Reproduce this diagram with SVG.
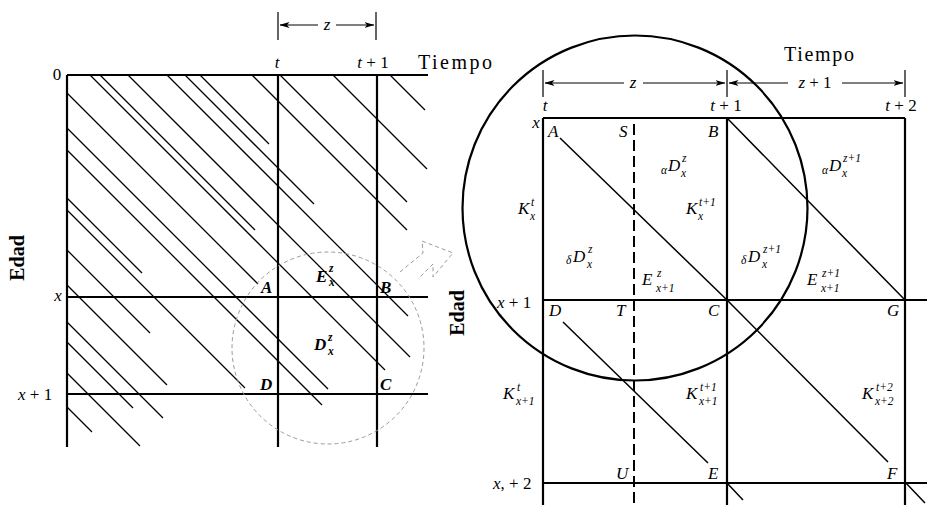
<svg xmlns="http://www.w3.org/2000/svg" width="927" height="505" viewBox="0 0 927 505">
<defs>
<marker id="ah" markerUnits="userSpaceOnUse" markerWidth="10" markerHeight="7" refX="9.5" refY="3.5" orient="auto-start-reverse">
<path d="M0,0.6 L10,3.5 L0,6.4 L2.5,3.5 z" fill="#000"/>
</marker>
</defs>
<style>
.f{stroke:#000;stroke-width:2.2;fill:none}
.h{stroke:#000;stroke-width:1.3;fill:none}
.d{stroke:#000;stroke-width:1.5;fill:none}
.b{stroke:#000;stroke-width:1.2;fill:none}
.g{stroke:#9a9a9a;stroke-width:1;fill:none;stroke-dasharray:4 3}
text{font-family:"Liberation Serif","DejaVu Serif",serif;fill:#000}
.m{font-style:italic;font-size:17px}
.mb{font-style:italic;font-weight:bold;font-size:17px}
.s{font-style:italic;font-size:11.5px}
.sb{font-style:italic;font-weight:bold;font-size:11.5px}
.n{font-size:17px}
.w{font-size:20px}
.e{font-size:20px;font-weight:bold}
.mid{text-anchor:middle}
</style>
<rect width="927" height="505" fill="#fff"/>

<g id="left-panel" font-family="Liberation Serif, DejaVu Serif, serif">
<g id="left-hatch">
<path class="h" d="M90,75L385,370M100,75L255,230M128,75L410,357M167,75L408,316M185,75L314,204M200,75L269,144M252,75L407,230M280,75L407,202M333,75L427,169M390,75L425,110"/>
<path class="h" d="M67,93L258,284M67,128L328,389M67,150L322,405M67,198L142,273M67,210L245,388M67,250L150,333M67,285L167,385M67,322L163,418M67,342L133,408M67,373L140,446M67,407L92,432"/>
</g>
<g id="left-frame">
<path class="f" d="M67,75H428M67,297H428M67,394H428M67,75V447M278,75V447M377,75V447"/>
</g>
<g id="left-bracket">
<path class="b" d="M278,12V40M376,12V40"/>
<path class="b" d="M318,25H280" marker-end="url(#ah)"/>
<path class="b" d="M336,25H374" marker-end="url(#ah)"/>
<text class="m mid" x="327" y="30">z</text>
</g>
<g id="left-labels">
<text class="n mid" x="57" y="80">0</text>
<text class="m mid" x="277" y="68">t</text>
<text class="n mid" x="373" y="68"><tspan font-style="italic">t</tspan> + 1</text>
<text class="w" x="418" y="69" textLength="74">Tiempo</text>
<text class="m mid" x="58" y="301">x</text>
<text class="n" x="18" y="400"><tspan font-style="italic">x</tspan> + 1</text>
<text class="e mid" transform="translate(24,258) rotate(-90)">Edad</text>
<text class="mb" x="261" y="293">A</text>
<text class="mb" x="380" y="293">B</text>
<text class="mb" x="260" y="390">D</text>
<text class="mb" x="380" y="390">C</text>
<text class="mb" x="316" y="282">E</text>
<text class="sb" x="329" y="272">z</text>
<text class="sb" x="329" y="286">x</text>
<text class="mb" x="314" y="350">D</text>
<text class="sb" x="328" y="341">z</text>
<text class="sb" x="328" y="355">x</text>
</g>
<g id="left-highlight">
<circle class="g" cx="328" cy="348" r="96"/>
<path class="g" d="M400,272L423,253L422,241L453,253L433,277L433,264L418,279"/>
</g>
</g>

<g id="right-panel" font-family="Liberation Serif, DejaVu Serif, serif">
<g id="right-circle">
<circle cx="635" cy="208" r="172.5" fill="none" stroke="#000" stroke-width="2.2"/>
</g>
<g id="right-frame">
<path class="f" d="M543,118H905M543,300H927M543,483H927M543,118V505M727,118V505M905,118V505"/>
<path d="M634,124V505" stroke="#000" stroke-width="2" stroke-dasharray="11 5" fill="none"/>
</g>
<g id="right-diagonals">
<path class="d" d="M560,138L727,300M727,118L905,300M727,300L888,462M905,482L925,503M563,322L708,463M727,483L743,500"/>
</g>
<g id="right-bracket">
<path class="b" d="M543,70V97M727,70V97M905,70V97"/>
<path class="b" d="M624,83H545" marker-end="url(#ah)"/>
<path class="b" d="M643,83H725" marker-end="url(#ah)"/>
<path class="b" d="M788,83H729" marker-end="url(#ah)"/>
<path class="b" d="M842,83H903" marker-end="url(#ah)"/>
<text class="m mid" x="633" y="88">z</text>
<text class="n mid" x="815" y="88"><tspan font-style="italic">z</tspan> + 1</text>
<text class="w" x="784" y="61" textLength="70">Tiempo</text>
</g>
<g id="right-labels">
<text class="m mid" x="545" y="111">t</text>
<text class="n mid" x="726" y="111"><tspan font-style="italic">t</tspan> + 1</text>
<text class="n mid" x="901" y="111"><tspan font-style="italic">t</tspan> + 2</text>
<text class="m mid" x="536" y="128">x</text>
<text class="m" x="548" y="137">A</text>
<text class="m" x="619" y="137">S</text>
<text class="m" x="708" y="137">B</text>
<text class="n" x="497" y="308"><tspan font-style="italic">x</tspan> + 1</text>
<text class="m" x="549" y="316">D</text>
<text class="m" x="616" y="316">T</text>
<text class="m" x="708" y="316">C</text>
<text class="m" x="887" y="316">G</text>
<text class="n" x="493" y="489"><tspan font-style="italic">x</tspan>, + 2</text>
<text class="m" x="616" y="479">U</text>
<text class="m" x="708" y="479">E</text>
<text class="m" x="887" y="479">F</text>
<text class="e mid" transform="translate(464,313) rotate(-90)">Edad</text>
</g>
<g id="right-math">
<text class="s" x="661" y="174">α</text><text class="m" x="668" y="171">D</text><text class="s" x="682" y="162">z</text><text class="s" x="681" y="177">x</text>
<text class="s" x="822" y="174">α</text><text class="m" x="829" y="171">D</text><text class="s" x="843" y="162">z+1</text><text class="s" x="842" y="177">x</text>
<text class="m" x="518" y="214">K</text><text class="s" x="531" y="206">t</text><text class="s" x="530" y="220">x</text>
<text class="m" x="686" y="214">K</text><text class="s" x="699" y="206">t+1</text><text class="s" x="698" y="220">x</text>
<text class="s" x="566" y="264">δ</text><text class="m" x="573" y="262">D</text><text class="s" x="588" y="253">z</text><text class="s" x="587" y="268">x</text>
<text class="s" x="741" y="264">δ</text><text class="m" x="748" y="262">D</text><text class="s" x="763" y="253">z+1</text><text class="s" x="762" y="268">x</text>
<text class="m" x="642" y="285">E</text><text class="s" x="657" y="277">z</text><text class="s" x="656" y="292">x+1</text>
<text class="m" x="807" y="285">E</text><text class="s" x="822" y="277">z+1</text><text class="s" x="821" y="292">x+1</text>
<text class="m" x="503" y="399">K</text><text class="s" x="517" y="391">t</text><text class="s" x="516" y="405">x+1</text>
<text class="m" x="686" y="399">K</text><text class="s" x="700" y="391">t+1</text><text class="s" x="699" y="405">x+1</text>
<text class="m" x="862" y="399">K</text><text class="s" x="876" y="391">t+2</text><text class="s" x="875" y="405">x+2</text>
</g>
</g>
</svg>
